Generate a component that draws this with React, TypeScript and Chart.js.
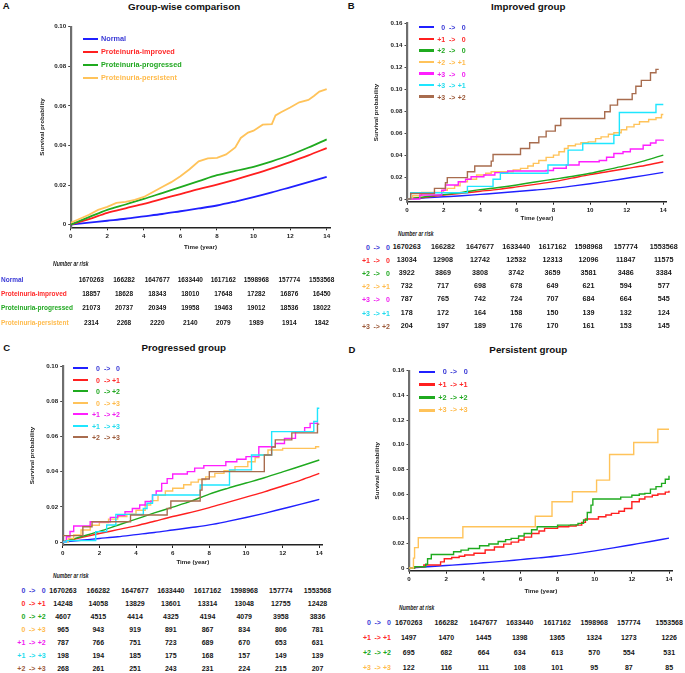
import React, { useEffect, useRef } from "react";
import { Chart, registerables } from "chart.js";

Chart.register(...registerables);

const FONT = "'Liberation Sans', Arial, Helvetica, sans-serif";
Chart.defaults.font.family = FONT;

type Pt = [number, number];
type Mode = "smooth" | "step" | "linear";

// ---------- colours ----------
const BLUE = "#2020ff";
const RED = "#ff1f1f";
const GREEN = "#1faa1f";
const ORANGE = "#ffc35a";
const MAGENTA = "#ff1fff";
const CYAN = "#1ee6ff";
const BROWN = "#a86c4e";
const BLUE_T = "#3a3ad6";
const RED_T = "#ff2a2a";
const GREEN_T = "#22a822";
const ORANGE_T = "#ffbb4c";
const MAGENTA_T = "#f020f0";
const CYAN_T = "#22dcee";
const BROWN_T = "#9c5a3a";

// ---------- axis ticks ----------
const X_TICKS = [0, 2, 4, 6, 8, 10, 12, 14];
const Y_TICKS_10 = [0, 0.02, 0.04, 0.06, 0.08, 0.1];
const Y_TICKS_16 = [0, 0.02, 0.04, 0.06, 0.08, 0.1, 0.12, 0.14, 0.16];

// ---------- curves (time in years, cumulative probability) ----------
const normalCurve: Pt[] = [[0, 0], [1, 0.001], [2, 0.002], [3, 0.003], [4, 0.0042], [5, 0.0054], [6, 0.0068], [7, 0.0082], [8, 0.0097], [9, 0.0117], [10, 0.0139], [11, 0.0163], [12, 0.0189], [13, 0.0215], [14, 0.0242]];

const aImproved: Pt[] = [[0, 0], [1, 0.0028], [2, 0.006], [3, 0.0083], [4, 0.0105], [5, 0.013], [6, 0.0155], [7, 0.018], [8, 0.0203], [9, 0.0228], [10, 0.0255], [11, 0.0284], [12, 0.0316], [13, 0.035], [14, 0.0387]];
const aProgressed: Pt[] = [[0, 0], [1, 0.0038], [2, 0.0075], [3, 0.0102], [4, 0.013], [5, 0.016], [6, 0.019], [7, 0.022], [8, 0.025], [9, 0.0272], [10, 0.0292], [11, 0.032], [12, 0.0352], [13, 0.039], [14, 0.0431]];
const aPersistent: Pt[] = [[0, 0.001], [0.5, 0.003], [1, 0.005], [1.5, 0.0075], [2, 0.009], [2.5, 0.011], [3, 0.0115], [3.5, 0.0125], [4, 0.014], [4.5, 0.0165], [5, 0.019], [5.5, 0.0215], [6, 0.0245], [6.5, 0.028], [7, 0.032], [7.5, 0.0335], [8, 0.0338], [8.5, 0.0355], [9, 0.039], [9.3, 0.0438], [9.7, 0.0465], [10, 0.0475], [10.5, 0.0505], [11, 0.0508], [11.2, 0.0552], [11.5, 0.0568], [12, 0.0592], [12.5, 0.0618], [13, 0.063], [13.3, 0.065], [13.6, 0.0672], [14, 0.0685]];

const bP1to0: Pt[] = [[0, 0], [1, 0.0015], [2, 0.0035], [3, 0.0052], [4, 0.007], [5, 0.0088], [6, 0.011], [7, 0.0133], [8, 0.0158], [9, 0.019], [10, 0.0222], [11, 0.025], [12, 0.0278], [13, 0.0305], [14, 0.0339]];
const bP2to0: Pt[] = [[0, 0], [1, 0.002], [2, 0.004], [3, 0.006], [4, 0.0085], [5, 0.0105], [6, 0.0128], [7, 0.0155], [8, 0.018], [9, 0.0205], [10, 0.0234], [11, 0.027], [12, 0.0306], [13, 0.035], [14, 0.04]];
const bP2toP1: Pt[] = [[0, 0], [0.3, 0.003], [0.8, 0.006], [2.0, 0.008], [2.2, 0.0097], [2.6, 0.012], [2.9, 0.0157], [3.3, 0.018], [3.8, 0.0218], [4.3, 0.0235], [4.6, 0.0248], [5.8, 0.0265], [6.2, 0.0279], [6.6, 0.03], [6.9, 0.0324], [7.2, 0.035], [7.6, 0.0379], [8.0, 0.04], [8.3, 0.043], [8.6, 0.046], [8.8, 0.0485], [9.2, 0.05], [9.5, 0.0512], [9.9, 0.052], [10.3, 0.055], [10.6, 0.0566], [11.0, 0.059], [11.3, 0.0603], [11.7, 0.063], [12.0, 0.0657], [12.4, 0.068], [12.7, 0.0703], [13.2, 0.0724], [13.6, 0.074], [13.9, 0.077], [14.0, 0.077]];
const bP3to0: Pt[] = [[0, 0], [0.7, 0.0036], [1.9, 0.008], [2.1, 0.0127], [2.8, 0.0157], [3.2, 0.018], [3.5, 0.0203], [4.2, 0.0218], [4.8, 0.024], [5.5, 0.0255], [7.6, 0.026], [8.0, 0.028], [8.7, 0.031], [9.4, 0.0339], [10.5, 0.035], [10.9, 0.038], [11.3, 0.0415], [11.8, 0.043], [12.2, 0.0455], [12.9, 0.049], [13.3, 0.051], [13.6, 0.0536], [14.0, 0.054]];
const bP3toP1: Pt[] = [[0, 0], [0.2, 0.0057], [3.3, 0.0115], [4.7, 0.018], [5.1, 0.0234], [7.7, 0.031], [8.8, 0.0445], [9.6, 0.0506], [11.3, 0.058], [11.6, 0.0788], [13.6, 0.086], [14.0, 0.086]];
const bP3toP2: Pt[] = [[0, 0], [0.2, 0.005], [1.5, 0.0097], [2.1, 0.0148], [2.2, 0.0195], [3.3, 0.0248], [3.7, 0.03], [4.6, 0.0345], [4.7, 0.0405], [6.2, 0.046], [6.7, 0.0512], [7.2, 0.0566], [7.6, 0.0618], [8.1, 0.067], [8.4, 0.0733], [10.8, 0.0794], [11.1, 0.0855], [11.5, 0.0906], [12.3, 0.096], [12.5, 0.1027], [12.8, 0.108], [13.3, 0.115], [13.6, 0.118], [13.75, 0.118]];

const c0toP1: Pt[] = [[0, 0], [1, 0.0025], [2, 0.0048], [3, 0.007], [4, 0.0092], [5, 0.0118], [6, 0.0145], [7, 0.0168], [8, 0.0195], [9, 0.0225], [10, 0.0255], [11, 0.0285], [12, 0.0318], [13, 0.0352], [14, 0.039]];
const c0toP2: Pt[] = [[0, 0], [1, 0.003], [2, 0.006], [3, 0.0095], [4, 0.013], [5, 0.0165], [6, 0.0198], [7, 0.0232], [8, 0.0272], [9, 0.0305], [10, 0.0335], [11, 0.0365], [12, 0.0398], [13, 0.0432], [14, 0.0466]];
const c0toP3: Pt[] = [[0, 0], [0.3, 0.002], [0.6, 0.004], [1.0, 0.0068], [1.5, 0.0095], [2.0, 0.011], [2.5, 0.013], [3.0, 0.0145], [3.5, 0.0158], [4.0, 0.018], [4.5, 0.021], [4.8, 0.0235], [5.2, 0.0265], [5.6, 0.029], [6.0, 0.0305], [6.6, 0.0325], [7.0, 0.034], [7.4, 0.0355], [7.8, 0.037], [8.3, 0.039], [8.8, 0.0405], [9.4, 0.0428], [10.1, 0.0456], [10.5, 0.048], [10.7, 0.0494], [11.2, 0.0523], [12.0, 0.0532], [13.8, 0.0541], [14.0, 0.0541]];
const cP1toP2: Pt[] = [[0, 0], [0.2, 0.003], [0.4, 0.006], [0.6, 0.0091], [1.5, 0.0115], [2.6, 0.014], [3.0, 0.015], [3.4, 0.0172], [3.8, 0.019], [4.2, 0.021], [4.5, 0.023], [4.9, 0.0267], [5.1, 0.029], [5.4, 0.0333], [5.7, 0.036], [6.0, 0.0386], [6.8, 0.04], [7.2, 0.042], [7.7, 0.0434], [8.9, 0.0456], [9.5, 0.047], [10.0, 0.0485], [10.7, 0.0541], [11.6, 0.056], [12.1, 0.0589], [12.7, 0.0627], [13.2, 0.065], [13.5, 0.0674], [13.9, 0.068]];
const cP1toP3: Pt[] = [[0, 0], [0.2, 0.0008], [1.8, 0.0059], [2.4, 0.0097], [2.9, 0.0157], [4.4, 0.019], [4.6, 0.022], [4.9, 0.0267], [7.5, 0.0324], [9.1, 0.041], [10.3, 0.0494], [11.4, 0.0627], [13.7, 0.0685], [13.9, 0.076], [14.0, 0.076]];
const cP2toP3: Pt[] = [[0, 0.0036], [1.1, 0.0087], [1.6, 0.0115], [3.7, 0.0153], [5.7, 0.019], [5.9, 0.0233], [7.5, 0.0295], [7.6, 0.0358], [8.0, 0.04], [11.0, 0.0494], [11.4, 0.054], [11.6, 0.058], [12.5, 0.062], [13.9, 0.067], [14.0, 0.067]];

const dP1toP1: Pt[] = [[0, 0], [0.3, 0.001], [0.8, 0.0024], [1.7, 0.005], [1.9, 0.0075], [2.3, 0.0085], [2.7, 0.0095], [3.0, 0.0105], [3.5, 0.012], [4.1, 0.0146], [4.6, 0.017], [5.1, 0.0194], [5.5, 0.021], [5.9, 0.0227], [6.2, 0.025], [6.6, 0.028], [7.0, 0.03], [7.3, 0.0321], [8.0, 0.0335], [8.6, 0.034], [9.0, 0.0348], [9.3, 0.037], [9.5, 0.0397], [10.2, 0.0416], [10.6, 0.043], [10.9, 0.0443], [11.3, 0.046], [11.6, 0.0483], [12.0, 0.0537], [12.4, 0.056], [12.7, 0.0577], [13.1, 0.059], [13.4, 0.06], [13.8, 0.0615], [14.0, 0.0626]];
const dP2toP2: Pt[] = [[0, 0], [0.3, 0.001], [0.9, 0.003], [1.0, 0.0075], [1.2, 0.011], [2.4, 0.0132], [2.8, 0.0145], [3.2, 0.0158], [3.8, 0.018], [4.3, 0.0195], [4.8, 0.0215], [5.2, 0.023], [5.5, 0.024], [5.9, 0.026], [6.2, 0.028], [6.6, 0.031], [6.9, 0.0335], [8.0, 0.0348], [8.7, 0.035], [9.1, 0.0362], [9.4, 0.0389], [9.6, 0.045], [9.8, 0.051], [9.9, 0.0559], [10.9, 0.0559], [11.4, 0.0575], [12.0, 0.059], [12.4, 0.06], [12.7, 0.0605], [13.0, 0.064], [13.3, 0.066], [13.6, 0.0686], [13.8, 0.072], [14.0, 0.0748]];
const dP3toP3: Pt[] = [[0, 0], [0.24, 0.008], [0.3, 0.0165], [0.5, 0.0245], [2.9, 0.0335], [6.8, 0.042], [7.7, 0.0537], [8.8, 0.0618], [10.1, 0.0713], [10.8, 0.092], [12.1, 0.1018], [13.4, 0.1125], [14.0, 0.1125]];

// ---------- numbers at risk ----------
const riskNormal = [1670263, 166282, 1647677, 1633440, 1617162, 1598968, 157774, 1553568];
const riskImproved = [18857, 18628, 18343, 18010, 17648, 17282, 16876, 16450];
const riskProgressed = [21073, 20737, 20349, 19958, 19463, 19012, 18536, 18022];
const riskPersistent = [2314, 2268, 2220, 2140, 2079, 1989, 1914, 1842];

const riskB_P1to0 = [13034, 12908, 12742, 12532, 12313, 12096, 11847, 11575];
const riskB_P2to0 = [3922, 3869, 3808, 3742, 3659, 3581, 3486, 3384];
const riskB_P2toP1 = [732, 717, 698, 678, 649, 621, 594, 577];
const riskB_P3to0 = [787, 765, 742, 724, 707, 684, 664, 545];
const riskB_P3toP1 = [178, 172, 164, 158, 150, 139, 132, 124];
const riskB_P3toP2 = [204, 197, 189, 176, 170, 161, 153, 145];

const riskC_0toP1 = [14248, 14058, 13829, 13601, 13314, 13048, 12755, 12428];
const riskC_0toP2 = [4607, 4515, 4414, 4325, 4194, 4079, 3958, 3836];
const riskC_0toP3 = [965, 943, 919, 891, 867, 834, 806, 781];
const riskC_P1toP2 = [787, 766, 751, 723, 689, 670, 653, 631];
const riskC_P1toP3 = [198, 194, 185, 175, 168, 157, 149, 139];
const riskC_P2toP3 = [268, 261, 251, 243, 231, 224, 215, 207];

const riskD_P1toP1 = [1497, 1470, 1445, 1398, 1365, 1324, 1273, 1226];
const riskD_P2toP2 = [695, 682, 664, 634, 613, 570, 554, 531];
const riskD_P3toP3 = [122, 116, 111, 108, 101, 95, 87, 85];

// ---------- structures ----------
type Series = { label: string; color: string; text: string; pts: Pt[]; mode: Mode; risk: number[] };

const seriesA: Series[] = [
  { label: "Normal", color: BLUE, text: BLUE_T, pts: normalCurve, mode: "smooth", risk: riskNormal },
  { label: "Proteinuria-improved", color: RED, text: RED_T, pts: aImproved, mode: "smooth", risk: riskImproved },
  { label: "Proteinuria-progressed", color: GREEN, text: GREEN_T, pts: aProgressed, mode: "smooth", risk: riskProgressed },
  { label: "Proteinuria-persistent", color: ORANGE, text: ORANGE_T, pts: aPersistent, mode: "linear", risk: riskPersistent },
];
const seriesB: Series[] = [
  { label: "0 -> 0", color: BLUE, text: BLUE_T, pts: normalCurve, mode: "smooth", risk: riskNormal },
  { label: "+1 -> 0", color: RED, text: RED_T, pts: bP1to0, mode: "smooth", risk: riskB_P1to0 },
  { label: "+2 -> 0", color: GREEN, text: GREEN_T, pts: bP2to0, mode: "smooth", risk: riskB_P2to0 },
  { label: "+2 -> +1", color: ORANGE, text: ORANGE_T, pts: bP2toP1, mode: "step", risk: riskB_P2toP1 },
  { label: "+3 -> 0", color: MAGENTA, text: MAGENTA_T, pts: bP3to0, mode: "step", risk: riskB_P3to0 },
  { label: "+3 -> +1", color: CYAN, text: CYAN_T, pts: bP3toP1, mode: "step", risk: riskB_P3toP1 },
  { label: "+3 -> +2", color: BROWN, text: BROWN_T, pts: bP3toP2, mode: "step", risk: riskB_P3toP2 },
];
const seriesC: Series[] = [
  { label: "0 -> 0", color: BLUE, text: BLUE_T, pts: normalCurve, mode: "smooth", risk: riskNormal },
  { label: "0 -> +1", color: RED, text: RED_T, pts: c0toP1, mode: "smooth", risk: riskC_0toP1 },
  { label: "0 -> +2", color: GREEN, text: GREEN_T, pts: c0toP2, mode: "smooth", risk: riskC_0toP2 },
  { label: "0 -> +3", color: ORANGE, text: ORANGE_T, pts: c0toP3, mode: "step", risk: riskC_0toP3 },
  { label: "+1 -> +2", color: MAGENTA, text: MAGENTA_T, pts: cP1toP2, mode: "step", risk: riskC_P1toP2 },
  { label: "+1 -> +3", color: CYAN, text: CYAN_T, pts: cP1toP3, mode: "step", risk: riskC_P1toP3 },
  { label: "+2 -> +3", color: BROWN, text: BROWN_T, pts: cP2toP3, mode: "step", risk: riskC_P2toP3 },
];
const seriesD: Series[] = [
  { label: "0 -> 0", color: BLUE, text: BLUE_T, pts: normalCurve, mode: "smooth", risk: riskNormal },
  { label: "+1 -> +1", color: RED, text: RED_T, pts: dP1toP1, mode: "step", risk: riskD_P1toP1 },
  { label: "+2 -> +2", color: GREEN, text: GREEN_T, pts: dP2toP2, mode: "step", risk: riskD_P2toP2 },
  { label: "+3 -> +3", color: ORANGE, text: ORANGE_T, pts: dP3toP3, mode: "step", risk: riskD_P3toP3 },
];

type Geom = { x0: number; x14: number; yZero: number; yTop: number; yMax: number; yTicks: number[]; axisY: number; yTitleX: number; xTitleY: number };

const X_MAX = 14.2;
const TITLE_SIZE = 6.2;
const TITLE_LH = TITLE_SIZE * 1.2;
const TICK_SIZE = 6.2;

function layoutOf(g: Geom) {
  const k = (g.x14 - g.x0) / 14;
  const cl = Math.floor(g.yTitleX - 10);
  const ct = Math.floor(g.yTop - 10);
  const cr = Math.ceil(g.x0 + X_MAX * k + 8);
  const cb = Math.ceil(g.xTitleY + 7);
  const W = cr - cl;
  const H = cb - ct;
  const yPx = (g.yZero - g.yTop) / g.yMax;
  const yMin = -(g.axisY - g.yZero) / yPx;
  return {
    cl, ct, W, H, yMin,
    yWidth: g.x0 - cl,
    padTop: g.yTop - ct,
    padRight: W - (g.x0 + X_MAX * k - cl),
    xHeight: H - (g.axisY - ct),
    yTitlePad: g.yTitleX - cl - TITLE_LH / 2,
    xTitlePad: cb - g.xTitleY - TITLE_LH / 2,
  };
}

function Plot({ geom, series, lw }: { geom: Geom; series: Series[]; lw: number }) {
  const ref = useRef<HTMLCanvasElement>(null);
  const L = layoutOf(geom);
  useEffect(() => {
    const tickFont = { family: FONT, size: TICK_SIZE, weight: "bold" as const };
    const titleFont = { family: FONT, size: TITLE_SIZE, weight: "bold" as const };
    const datasets = series
      .map((s) => ({
        label: s.label,
        data: s.pts.map(([x, y]) => ({ x, y })),
        borderColor: s.color,
        backgroundColor: s.color,
        borderWidth: lw,
        pointRadius: 0,
        fill: false,
        stepped: s.mode === "step" ? ("before" as const) : false,
        cubicInterpolationMode: s.mode === "smooth" ? ("monotone" as const) : ("default" as const),
        tension: 0,
      }))
      .reverse();
    const chart = new Chart(ref.current!, {
      type: "line",
      data: { datasets },
      options: {
        responsive: false,
        animation: false,
        events: [],
        layout: { padding: { top: L.padTop, right: L.padRight, bottom: 0, left: 0 } },
        plugins: { legend: { display: false }, tooltip: { enabled: false } },
        scales: {
          x: {
            type: "linear",
            min: 0,
            max: X_MAX,
            afterFit: (s: any) => { s.height = L.xHeight; },
            afterBuildTicks: (s: any) => { s.ticks = X_TICKS.map((v) => ({ value: v })); },
            ticks: { font: tickFont, color: "#222", padding: 2, maxRotation: 0, autoSkip: false, callback: (v: any) => String(v) },
            grid: { display: true, drawOnChartArea: false, drawTicks: true, tickLength: 3, color: "#222", lineWidth: 1 },
            border: { display: true, color: "#222", width: 1.5 },
            title: { display: true, text: "Time (year)", font: titleFont, color: "#222", padding: { top: 0, bottom: L.xTitlePad } },
          },
          y: {
            type: "linear",
            min: L.yMin,
            max: geom.yMax,
            afterFit: (s: any) => { s.width = L.yWidth; },
            afterBuildTicks: (s: any) => { s.ticks = geom.yTicks.map((v) => ({ value: v })); },
            ticks: { font: tickFont, color: "#222", padding: 2, autoSkip: false, callback: (v: any) => (Number(v) === 0 ? "0" : Number(v).toFixed(2)) },
            grid: { display: true, drawOnChartArea: false, drawTicks: true, tickLength: 2.5, color: "#444", lineWidth: 1 },
            border: { display: true, color: "#6e6e6e", width: 2.2 },
            title: { display: true, text: "Survival probability", font: titleFont, color: "#222", padding: { top: L.yTitlePad, bottom: 0 } },
          },
        },
      },
    } as any);
    return () => chart.destroy();
  }, []);
  return (
    <canvas
      ref={ref}
      width={L.W}
      height={L.H}
      style={{ position: "absolute", left: L.cl, top: L.ct, width: L.W, height: L.H }}
    />
  );
}

type TProps = { x: number; y: number; size: number; color?: string; align?: "left" | "center" | "right"; italic?: boolean; sx?: number; children: React.ReactNode };
function T({ x, y, size, color = "#111", align = "center", italic = false, sx = 1, children }: TProps) {
  const tx = align === "center" ? "-50%" : align === "right" ? "-100%" : "0";
  const origin = align === "center" ? "center center" : align === "right" ? "right center" : "left center";
  return (
    <div
      style={{
        position: "absolute",
        left: x,
        top: y,
        transform: `translate(${tx},-50%)` + (sx !== 1 ? ` scaleX(${sx})` : ""),
        transformOrigin: origin,
        fontFamily: FONT,
        fontWeight: 700,
        fontStyle: italic ? "italic" : "normal",
        fontSize: size,
        lineHeight: 1,
        whiteSpace: "nowrap",
        color,
      }}
    >
      {children}
    </div>
  );
}

type TransPos = { srcRight: number; arrowC: number; tgtRight: number };
function Trans({ label, y, pos, size, color }: { label: string; y: number; pos: TransPos; size: number; color: string }) {
  const [a, b] = label.split(" -> ");
  return (
    <>
      <T x={pos.srcRight} y={y} size={size} color={color} align="right">{a}</T>
      <T x={pos.arrowC} y={y} size={size} color={color}>{"->"}</T>
      <T x={pos.tgtRight} y={y} size={size} color={color} align="right">{b}</T>
    </>
  );
}

type LegendSpec = { x1: number; x2: number; y0: number; dy: number; size: number; th: number; textX?: number; trans?: TransPos };
function Legend({ series, spec }: { series: Series[]; spec: LegendSpec }) {
  return (
    <>
      {series.map((s, i) => {
        const y = spec.y0 + i * spec.dy;
        return (
          <React.Fragment key={s.label}>
            <div style={{ position: "absolute", left: spec.x1, top: y - spec.th / 2, width: spec.x2 - spec.x1, height: spec.th, background: s.color }} />
            {spec.trans ? (
              <Trans label={s.label} y={y} pos={spec.trans} size={spec.size} color={s.text} />
            ) : (
              <T x={spec.textX!} y={y} size={spec.size} color={s.text} align="left">{s.label}</T>
            )}
          </React.Fragment>
        );
      })}
    </>
  );
}

type TableSpec = { headX: number; headY: number; headText: string; y0: number; dy: number; cols: number[]; numSize: number; labSize: number; labelX?: number; trans?: TransPos };
function RiskTable({ series, spec }: { series: Series[]; spec: TableSpec }) {
  return (
    <>
      <T x={spec.headX} y={spec.headY} size={7} italic align="left" sx={0.72} color="#222">{spec.headText}</T>
      {series.map((s, i) => {
        const y = spec.y0 + i * spec.dy;
        return (
          <React.Fragment key={s.label}>
            {spec.trans ? (
              <Trans label={s.label} y={y} pos={spec.trans} size={spec.labSize} color={s.text} />
            ) : (
              <T x={spec.labelX!} y={y} size={spec.labSize} color={s.text} align="left">{s.label}</T>
            )}
            {s.risk.map((v, j) => (
              <T key={j} x={spec.cols[j]} y={y} size={spec.numSize} color="#151515">{String(v)}</T>
            ))}
          </React.Fragment>
        );
      })}
    </>
  );
}

const geomA: Geom = { x0: 70.7, x14: 326.7, yZero: 224.7, yTop: 26.7, yMax: 0.1, yTicks: Y_TICKS_10, axisY: 227.3, yTitleX: 42, xTitleY: 247 };
const geomB: Geom = { x0: 407, x14: 663.3, yZero: 199, yTop: 23.3, yMax: 0.16, yTicks: Y_TICKS_16, axisY: 201.7, yTitleX: 376, xTitleY: 218.7 };
const geomC: Geom = { x0: 62.7, x14: 319.3, yZero: 542, yTop: 366, yMax: 0.1, yTicks: Y_TICKS_10, axisY: 545, yTitleX: 32.3, xTitleY: 562.3 };
const geomD: Geom = { x0: 409, x14: 669, yZero: 568, yTop: 370.7, yMax: 0.16, yTicks: Y_TICKS_16, axisY: 570.7, yTitleX: 377.3, xTitleY: 591 };

export default function App() {
  return (
    <div style={{ position: "absolute", left: 0, top: 0, width: 685, height: 673, background: "#fff", overflow: "hidden" }}>
      <Plot geom={geomA} series={seriesA} lw={1.8} />
      <Plot geom={geomB} series={seriesB} lw={1.4} />
      <Plot geom={geomC} series={seriesC} lw={1.4} />
      <Plot geom={geomD} series={seriesD} lw={1.4} />

      <T x={6.3} y={6.3} size={9.5} color="#111">A</T>
      <T x={351.3} y={6.3} size={9.5} color="#111">B</T>
      <T x={6.7} y={347.7} size={9.5} color="#111">C</T>
      <T x={352} y={349.7} size={9.5} color="#111">D</T>

      <T x={184.2} y={6.5} size={9.8} color="#111">Group-wise comparison</T>
      <T x={528.3} y={6.5} size={9.8} color="#111">Improved group</T>
      <T x={183.7} y={347.8} size={9.8} color="#111">Progressed group</T>
      <T x={528.3} y={349.5} size={9.8} color="#111">Persistent group</T>

      <Legend series={seriesA} spec={{ x1: 83, x2: 98, y0: 39, dy: 13, size: 7.3, th: 2.6, textX: 101 }} />
      <Legend series={seriesB} spec={{ x1: 419, x2: 434, y0: 27.3, dy: 11.55, size: 7, th: 2.3, trans: { srcRight: 445.2, arrowC: 452.2, tgtRight: 465.7 } }} />
      <Legend series={seriesC} spec={{ x1: 72.7, x2: 88, y0: 368.3, dy: 11.5, size: 7, th: 2.3, trans: { srcRight: 100, arrowC: 107.2, tgtRight: 120 } }} />
      <Legend series={seriesD} spec={{ x1: 419, x2: 435, y0: 371.7, dy: 12.9, size: 7.3, th: 2.4, trans: { srcRight: 446.7, arrowC: 453.7, tgtRight: 467.7 } }} />

      <RiskTable series={seriesA} spec={{ headX: 53, headY: 263, headText: "Number ar risk", y0: 280, dy: 14.2, cols: [91.3, 124, 157.3, 190.3, 223.3, 256.3, 289.3, 321.7], numSize: 6.5, labSize: 6.5, labelX: 1 }} />
      <RiskTable series={seriesB} spec={{ headX: 397.7, headY: 233.3, headText: "Number ar risk", y0: 246.5, dy: 13.2, cols: [406.8, 443, 480, 516.3, 552.5, 588.5, 625.8, 663.7], numSize: 7.2, labSize: 7, trans: { srcRight: 370, arrowC: 376.7, tgtRight: 390 } }} />
      <RiskTable series={seriesC} spec={{ headX: 53, headY: 575.3, headText: "Number ar risk", y0: 590, dy: 13.0, cols: [63, 98.3, 135, 170.8, 207.5, 244.2, 280.8, 317.5], numSize: 7, labSize: 7, trans: { srcRight: 25.3, arrowC: 32.2, tgtRight: 45.7 } }} />
      <RiskTable series={seriesD} spec={{ headX: 399.3, headY: 606.7, headText: "Number at risk", y0: 621.7, dy: 15, cols: [408.7, 446.3, 483.5, 519.7, 557.2, 594.2, 628.8, 669.2], numSize: 7, labSize: 7, trans: { srcRight: 371, arrowC: 377.7, tgtRight: 391 } }} />
    </div>
  );
}
